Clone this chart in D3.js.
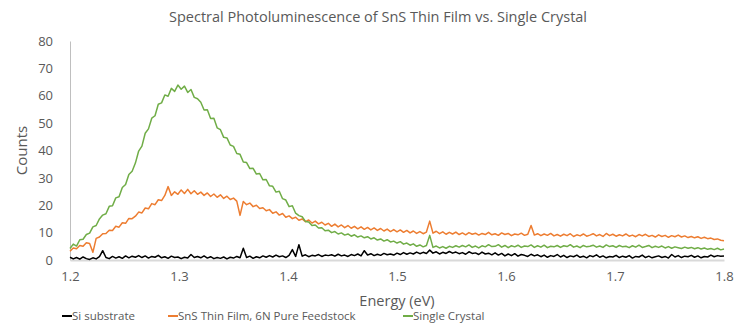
<!DOCTYPE html>
<html>
<head>
<meta charset="utf-8">
<script src="https://cdn.jsdelivr.net/npm/d3@7"></script>
<style>
  body { margin: 0; background: #fff; }
  svg text { font-family: "Open Sans", "Liberation Sans", Arial, sans-serif; fill: #595959; }
</style>
</head>
<body>
<svg id="chart" width="737" height="326"></svg>
<script>
// sampling grid of the spectra (eV)
var energyStart = 1.2, energyStep = 0.003;

var seriesNames = ["Si substrate", "SnS Thin Film, 6N Pure Feedstock", "Single Crystal"];
var seriesColors = ["#000000", "#ed7d31", "#70ad47"];

var siSubstrate = [
  1.0,0.4,0.9,0.3,1.1,0.5,0.2,0.8,0.4,1.2,
  3.4,0.9,0.5,1.3,0.7,1.2,0.6,1.5,0.8,1.4,
  1.0,1.6,0.9,1.5,0.7,1.3,1.0,1.7,0.8,1.2,
  0.6,1.4,0.9,1.1,0.5,1.0,0.7,2.0,0.9,1.3,
  0.8,1.5,0.7,1.2,0.5,0.9,0.6,1.1,0.4,1.0,
  0.7,1.3,0.8,4.3,0.9,1.4,0.6,1.2,0.8,1.5,
  1.0,1.6,1.1,1.8,1.2,1.5,0.9,1.7,3.8,1.3,
  5.6,1.4,1.9,1.2,1.7,1.5,2.0,1.3,1.8,1.6,
  1.9,1.4,2.1,1.5,1.8,1.3,2.0,1.6,2.2,1.5,
  3.4,1.8,2.3,1.6,2.1,1.7,2.4,1.9,2.2,1.8,
  2.5,2.0,2.7,2.1,2.6,2.2,2.9,2.3,2.8,2.4,
  3.6,2.5,3.0,2.2,2.8,2.4,3.1,2.5,2.9,2.3,
  2.7,2.1,3.0,2.4,2.6,2.0,2.9,2.2,2.5,1.9,
  2.6,1.8,2.4,1.5,2.2,1.6,2.3,1.4,2.0,1.7,
  1.3,2.1,1.5,1.9,1.2,1.8,1.0,1.6,1.3,2.0,
  1.1,1.7,0.9,1.5,1.2,1.8,1.0,1.4,0.8,1.6,
  1.2,1.9,1.0,1.5,0.8,1.3,1.1,1.7,0.9,1.4,
  1.0,1.6,0.7,1.3,1.1,1.8,0.9,1.4,0.8,1.2,
  1.5,0.9,1.3,0.7,2.0,1.1,1.6,0.9,1.4,1.2,
  1.7,1.0,1.5,0.8,1.3,1.1,1.8,1.2,1.6,1.4,
  1.5
];

var snsThinFilm = [
  3.2,4.4,4.1,5.3,5.0,6.3,6.0,2.8,7.9,8.4,
  9.6,9.7,10.9,10.8,12.3,12.0,13.6,13.4,15.2,15.1,
  16.0,17.5,17.2,19.0,18.7,20.6,20.2,22.0,21.7,23.6,
  26.8,23.6,24.9,24.0,25.6,24.3,25.8,24.2,25.3,24.0,
  24.8,23.6,24.5,23.2,24.1,22.9,23.8,22.5,23.3,22.1,
  22.6,21.5,16.3,21.4,20.2,20.8,19.5,20.0,18.8,19.1,
  18.0,18.4,17.1,17.6,16.4,17.0,15.6,16.1,15.1,15.6,
  14.5,15.0,14.0,14.6,13.5,14.2,13.2,13.8,12.8,13.4,
  12.3,13.1,12.1,12.8,11.8,12.6,11.6,12.3,11.4,12.1,
  11.2,11.9,11.0,11.7,10.8,11.5,10.6,11.3,10.4,11.1,
  10.3,11.0,10.1,10.8,9.9,10.6,9.7,10.4,9.6,10.2,
  14.2,9.8,10.5,9.6,10.3,9.4,10.1,9.5,10.2,9.3,
  9.9,9.2,10.0,9.4,9.8,9.1,9.7,9.3,10.1,9.2,
  9.6,9.0,9.9,9.3,9.7,8.9,9.5,9.2,9.8,9.0,
  9.4,12.6,9.1,9.6,8.9,9.5,9.0,9.7,8.8,9.3,
  8.7,9.4,8.9,9.6,8.6,9.2,8.8,9.5,8.7,9.1,
  9.6,8.8,9.3,8.6,9.7,8.9,9.4,8.7,9.2,8.8,
  9.5,8.7,9.1,8.5,9.3,8.8,9.4,8.6,9.0,8.4,
  9.2,8.6,9.0,8.3,8.9,8.5,9.1,8.4,8.8,8.2,
  8.6,8.1,8.5,7.9,8.3,7.8,8.0,7.5,7.7,7.2,
  7.0
];

var singleCrystal = [
  4.2,5.8,5.1,7.4,7.6,9.3,9.8,12.1,12.6,15.0,
  16.4,16.9,19.6,19.8,22.7,23.1,26.5,27.6,31.2,32.4,
  35.4,39.8,41.6,46.3,47.9,51.8,52.7,56.9,57.4,60.3,
  59.8,62.7,61.6,63.9,62.4,63.5,61.2,62.3,59.4,58.9,
  57.6,54.8,54.9,51.7,51.8,48.3,47.6,44.8,44.6,42.0,
  41.5,38.9,38.6,35.8,35.6,33.4,33.5,31.4,31.6,29.3,
  29.4,27.1,26.9,24.8,25.1,22.4,21.9,19.5,19.8,17.1,
  16.2,15.8,14.1,13.9,12.6,12.8,11.7,11.8,10.7,10.9,
  10.0,10.4,9.5,9.9,9.1,9.5,8.7,9.2,8.4,8.8,
  8.1,8.5,7.7,8.1,7.3,7.7,6.9,7.4,6.6,6.9,
  6.2,6.7,5.8,6.2,5.4,5.9,5.0,5.5,4.8,5.3,
  9.0,4.6,5.1,4.4,4.9,4.3,5.0,4.6,5.2,4.7,
  5.3,4.8,5.5,4.6,5.1,4.4,5.2,4.8,5.6,4.9,
  5.0,5.6,4.7,5.3,4.5,5.2,4.8,5.4,4.6,5.1,
  4.9,5.5,4.6,5.2,4.7,5.4,4.5,5.0,4.8,5.3,
  4.6,5.2,4.9,5.6,4.7,5.1,4.5,5.3,4.8,5.0,
  5.4,4.7,5.1,4.6,5.5,4.9,5.2,4.6,5.3,4.8,
  5.0,4.5,5.2,4.7,5.4,4.6,4.9,5.3,4.5,5.0,
  4.6,5.1,4.4,4.9,4.3,4.8,4.5,4.2,4.7,4.3,
  4.6,4.1,4.5,4.0,4.4,3.9,4.2,3.8,4.3,3.7,
  4.0
];

var xTicks = [1.2, 1.3, 1.4, 1.5, 1.6, 1.7, 1.8];
var yTicks = [0, 10, 20, 30, 40, 50, 60, 70, 80];

var svg = d3.select("#chart"),
  margin = {top: 41, right: 13, bottom: 66, left: 70},
  width = +svg.attr("width") - margin.left - margin.right,
  height = +svg.attr("height") - margin.top - margin.bottom;

var x = d3.scaleLinear().domain([1.2, 1.8]).range([0, width]);
var y = d3.scaleLinear().domain([0, 80]).range([height, 0]);

var g = svg.append("g")
  .attr("transform", "translate(" + margin.left + "," + margin.top + ")")
;

// title
svg.append("text")
  .attr("x", 378).attr("y", 22)
  .attr("text-anchor", "middle")
  .style("font-size", "14.5px")
  .text("Spectral Photoluminescence of SnS Thin Film vs. Single Crystal")
;

// axes
var yAxis = g.append("g")
  .call(d3.axisLeft(y).tickValues(yTicks).tickSize(0).tickPadding(17))
;
yAxis.select(".domain").attr("stroke", "#bfbfbf");
yAxis.selectAll("text").style("font-size", "13px").attr("fill", "#595959");

var xAxis = g.append("g")
  .attr("transform", "translate(0," + height + ")")
  .call(d3.axisBottom(x).tickValues(xTicks).tickFormat(d3.format(".1f")).tickSize(0).tickPadding(12))
;
xAxis.select(".domain").attr("stroke", "#d9d9d9").attr("stroke-width", 2);
xAxis.selectAll("text").style("font-size", "13px").attr("fill", "#595959");

// axis titles
svg.append("text")
  .attr("transform", "translate(27," + (margin.top + height / 2) + ") rotate(-90)")
  .attr("text-anchor", "middle")
  .style("font-size", "15px")
  .text("Counts")
;
svg.append("text")
  .attr("x", margin.left + width / 2).attr("y", 306)
  .attr("text-anchor", "middle")
  .style("font-size", "14.5px")
  .text("Energy (eV)")
;

// spectra
var allSeries = [siSubstrate, snsThinFilm, singleCrystal];
var line = d3.line()
  .x(function(d, i) { return x(energyStart + i * energyStep); })
  .y(function(d) { return y(d); })
;

g.selectAll(".spectrum")
  .data(allSeries)
  .enter().append("path")
  .attr("class", "spectrum")
  .attr("fill", "none")
  .attr("stroke", function(d, i) { return seriesColors[i]; })
  .attr("stroke-width", 1.5)
  .attr("stroke-linejoin", "round")
  .attr("d", line)
;

// legend
var legendX = [62, 168, 403];
var legend = svg.selectAll(".legend")
  .data(seriesNames)
  .enter().append("g")
  .attr("class", "legend")
  .attr("transform", function(d, i) { return "translate(" + legendX[i] + ",320)"; })
;
legend.append("line")
  .attr("x1", 0).attr("x2", 10).attr("y1", -4).attr("y2", -4)
  .attr("stroke", function(d, i) { return seriesColors[i]; })
  .attr("stroke-width", 2)
;
legend.append("text")
  .attr("x", 10)
  .style("font-size", "11.5px")
  .text(function(d) { return d; })
;
</script>
</body>
</html>
